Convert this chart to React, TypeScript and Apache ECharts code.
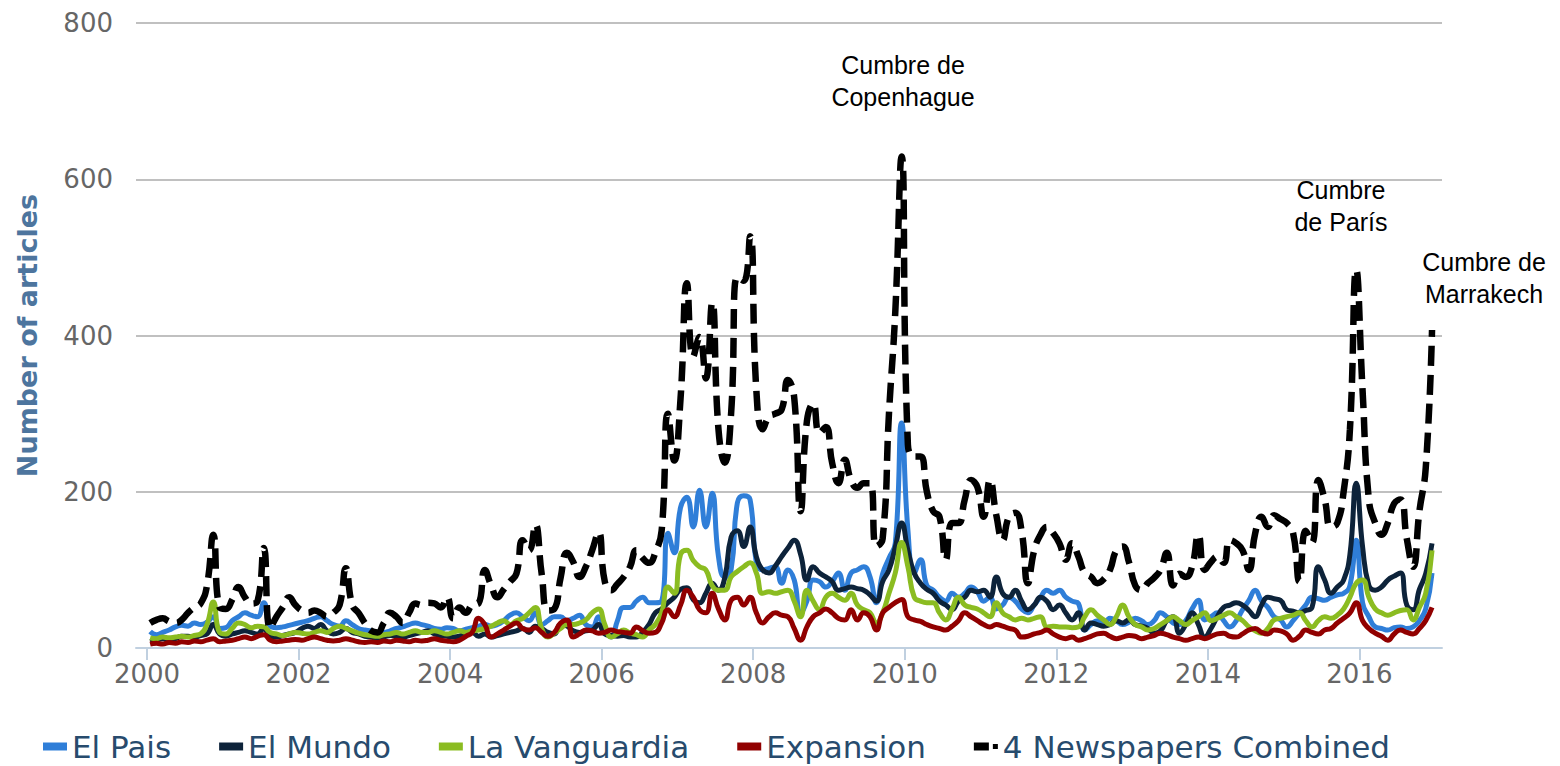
import React, { useEffect, useRef } from "react";
import * as echarts from "echarts";

// Monthly article counts, Jan 2000 .. Dec 2016 (12 values per row = one year)
const START_YEAR = 2000;

const EL_PAIS = [
  21, 17, 20, 23, 27, 29, 28, 32, 30, 33, 40, 25,
  26, 35, 40, 45, 42, 40, 58, 28, 26, 27, 29, 31,
  33, 35, 38, 40, 35, 30, 28, 35, 30, 25, 23, 22,
  20, 20, 22, 25, 27, 30, 32, 30, 28, 25, 24, 26,
  25, 22, 24, 26, 28, 30, 28, 30, 35, 42, 45, 40,
  35, 45, 30, 35, 40, 40, 35, 38, 42, 30, 27, 40,
  23, 14, 35, 52, 52, 60, 65, 58, 58, 60, 147, 122,
  180, 193, 155, 202, 155, 198, 117, 91, 100, 186, 195, 190,
  109, 100, 102, 104, 83, 100, 87, 45, 60, 87, 85, 78,
  85, 96, 74, 96, 100, 104, 91, 58, 95, 115, 134, 288,
  151, 96, 113, 80, 74, 65, 60, 70, 65, 70, 78, 72,
  60, 65, 50, 55, 65, 60, 50, 45, 55, 65, 74, 70,
  74, 65, 60, 57, 23, 30, 35, 30, 38, 35, 30, 33,
  38, 35, 30, 35, 45, 40, 32, 30, 35, 50, 61, 36,
  40, 45, 35, 27, 35, 49, 61, 74, 60, 52, 40, 36,
  27, 35, 45, 55, 65, 63, 61, 65, 68, 70, 80, 138,
  58, 40, 27, 25, 23, 26, 27, 25, 27, 35, 50, 96,
];

const EL_MUNDO = [
  8, 10, 12, 10, 12, 15, 15, 14, 16, 18, 30, 18,
  15, 18, 20, 22, 20, 18, 25, 15, 14, 16, 18, 20,
  25, 28, 25, 30, 22, 18, 20, 25, 20, 18, 15, 14,
  12, 14, 16, 15, 14, 16, 18, 20, 22, 18, 16, 15,
  14, 15, 18, 20, 15, 18, 14, 16, 18, 20, 22, 25,
  20, 28, 25, 20, 18, 30, 28, 22, 20, 22, 23, 30,
  18, 16, 15, 16, 14, 14, 20, 30, 45, 50, 58, 65,
  75, 77, 62, 58, 70, 83, 74, 90, 142, 150, 130, 155,
  117, 100, 96, 105, 117, 128, 138, 120, 87, 104, 96, 91,
  85, 74, 76, 78, 76, 74, 68, 60, 85, 100, 129, 160,
  125, 96, 83, 75, 70, 60, 55, 49, 60, 65, 74, 72,
  74, 65, 91, 70, 65, 74, 60, 49, 55, 65, 60, 49,
  55, 45, 36, 45, 23, 32, 30, 28, 30, 35, 32, 36,
  30, 28, 25, 19, 22, 35, 40, 19, 30, 45, 30, 14,
  25, 40, 52, 55, 58, 55, 48, 40, 55, 65, 63, 61,
  49, 47, 45, 48, 52, 104, 87, 70, 78, 87, 120, 211,
  130, 80, 74, 78, 87, 92, 96, 55, 49, 75, 95, 134,
];

const LA_VANGUARDIA = [
  13, 12, 14, 13, 14, 15, 14, 16, 18, 30, 59, 20,
  18, 25, 32, 30, 26, 28, 27, 20, 18, 16, 18, 20,
  19, 18, 20, 22, 20, 25, 28, 25, 22, 19, 17, 16,
  15, 17, 18, 20, 18, 20, 22, 20, 20, 22, 20, 18,
  20, 22, 20, 22, 23, 25, 28, 32, 35, 30, 35, 38,
  45, 52, 25, 14, 19, 25, 30, 30, 32, 36, 45, 50,
  30, 14, 18, 23, 19, 17, 14, 23, 30, 45, 78, 70,
  120, 125, 112, 104, 100, 80, 74, 74, 91, 98, 104, 109,
  96, 70, 72, 70, 72, 74, 60, 40, 74, 60, 49, 65,
  70, 65, 61, 70, 55, 49, 45, 32, 45, 70, 96, 135,
  104, 65, 60, 58, 58, 45, 36, 50, 65, 55, 52, 50,
  45, 40, 58, 45, 40, 36, 38, 36, 38, 40, 27, 28,
  27, 27, 26, 27, 40, 49, 42, 36, 30, 40, 55, 40,
  30, 27, 23, 25, 30, 35, 40, 35, 30, 35, 40, 45,
  35, 38, 42, 45, 40, 35, 27, 22, 19, 25, 36, 38,
  40, 42, 45, 35, 27, 35, 40, 38, 42, 50, 65, 83,
  87, 65, 50, 45, 42, 45, 48, 49, 36, 52, 70, 125,
];

const EXPANSION = [
  5, 6, 5, 7, 6, 8, 7, 9, 8, 10, 12, 8,
  9, 10, 12, 14, 12, 15, 17, 10, 8, 9, 10, 11,
  10, 12, 14, 12, 10, 9, 10, 12, 10, 8, 7, 8,
  7, 9, 8, 10, 9, 8, 10, 9, 10, 12, 10, 9,
  8, 10, 15, 20, 38, 30, 14, 18, 23, 28, 32, 25,
  23, 26, 20, 15, 20, 32, 36, 14, 18, 23, 22, 19,
  20, 23, 21, 20, 19, 27, 22, 19, 20, 32, 49, 40,
  55, 74, 65, 49, 45, 70, 50, 36, 61, 65, 55, 65,
  45, 32, 40, 45, 42, 40, 25, 10, 27, 40, 45, 50,
  45, 38, 36, 49, 36, 45, 40, 23, 45, 52, 58, 62,
  40, 36, 34, 30, 27, 25, 23, 28, 35, 45, 40, 35,
  30, 27, 30, 28, 25, 23, 14, 15, 18, 20, 23, 18,
  14, 12, 14, 10, 12, 15, 18, 19, 15, 12, 14, 16,
  15, 12, 14, 16, 19, 17, 14, 12, 10, 12, 14, 12,
  15, 18, 19, 15, 14, 18, 23, 25, 20, 18, 23, 22,
  18, 10, 15, 23, 20, 18, 23, 25, 32, 38, 45, 58,
  35, 25, 19, 15, 10, 18, 23, 20, 18, 25, 35, 52,
];

const COMBINED = [
  32, 36, 38, 34, 32, 36, 45, 52, 57, 80, 145, 52,
  50, 62, 78, 65, 57, 60, 128, 25, 40, 52, 65, 55,
  48, 45, 48, 45, 40, 45, 55, 102, 55, 45, 32, 22,
  20, 32, 45, 40, 32, 45, 57, 55, 58, 57, 52, 65,
  38, 52, 45, 55, 57, 100, 80, 65, 75, 85, 95, 138,
  125, 158, 95, 48, 50, 90, 122, 110, 91, 104, 125, 148,
  85, 74, 82, 91, 104, 125, 115, 109, 122, 150, 300, 240,
  320, 467, 373, 398, 345, 442, 280, 237, 300, 475, 470, 527,
  330, 280, 296, 300, 305, 343, 320, 175, 290, 313, 275, 283,
  237, 211, 241, 215, 205, 211, 211, 130, 140, 300, 430, 629,
  260, 245, 245, 200, 175, 168, 113, 160, 160, 190, 215, 206,
  168, 215, 170, 138, 168, 173, 150, 83, 125, 145, 155, 147,
  134, 113, 134, 117, 96, 91, 83, 88, 100, 125, 130, 110,
  80, 74, 83, 90, 100, 122, 80, 95, 91, 104, 145, 100,
  110, 117, 109, 138, 134, 125, 100, 147, 168, 155, 170, 165,
  160, 147, 85, 150, 135, 215, 190, 155, 160, 200, 280, 484,
  330, 190, 160, 145, 160, 185, 190, 140, 104, 175, 230, 407,
];

const X_TICKS = [2000, 2002, 2004, 2006, 2008, 2010, 2012, 2014, 2016];

const SERIES_NAMES = ["El Pais", "El Mundo", "La Vanguardia", "Expansion", "4 Newspapers Combined"];
const SERIES_COLORS = ["#2f7ed8", "#0d233a", "#8bbc21", "#910000", "#000000"];

const ANNOTATIONS = [
  { text: "Cumbre de\nCopenhague", x: 903, y: 49 },
  { text: "Cumbre\nde París", x: 1341, y: 174 },
  { text: "Cumbre de\nMarrakech", x: 1484, y: 246 },
];

export default function App() {
  const ref = useRef<HTMLDivElement>(null);

  useEffect(() => {
    if (!ref.current) return;
    const chart = echarts.init(ref.current, null, { renderer: "svg" });
    const xs = EL_PAIS.map((_, i) => START_YEAR + (i + 0.5) / 12);
    const toData = (arr: number[]) => arr.map((v, i) => [xs[i], v]);
    const values = [EL_PAIS, EL_MUNDO, LA_VANGUARDIA, EXPANSION, COMBINED];

    const series = values.map((arr, k) => {
      const isCombined = k === 4;
      return {
        name: SERIES_NAMES[k],
        type: "line",
        data: toData(arr),
        smooth: true,
        showSymbol: false,
        symbol: "none",
        itemStyle: { color: SERIES_COLORS[k] },
        lineStyle: isCombined
          ? { color: SERIES_COLORS[k], width: 6.5, type: [20, 9] }
          : { color: SERIES_COLORS[k], width: 5 },
        z: 2 + k,
      };
    });

    chart.setOption({
      animation: false,
      backgroundColor: "#ffffff",
      grid: { left: 136, right: 118, top: 23, bottom: 118, containLabel: false },
      xAxis: {
        type: "value",
        min: 1999.855,
        max: 2017.09,
        splitLine: { show: false },
        axisLine: { show: true, lineStyle: { color: "#C0D0E0", width: 2 } },
        axisTick: {
          show: true,
          length: 12,
          customValues: X_TICKS,
          lineStyle: { color: "#C0D0E0", width: 2 },
        },
        axisLabel: {
          customValues: X_TICKS,
          formatter: (v: number) => String(Math.round(v)),
          color: "#666666",
          fontSize: 26,
          fontFamily: "DejaVu Sans",
          margin: 13,
        },
      },
      yAxis: {
        type: "value",
        min: 0,
        max: 800,
        interval: 200,
        name: "Number of articles",
        nameLocation: "middle",
        nameRotate: 90,
        nameGap: 95,
        nameTextStyle: {
          color: "#4d759e",
          fontSize: 27,
          fontWeight: "bold",
          fontFamily: "DejaVu Sans",
        },
        axisLine: { show: false },
        axisTick: { show: false },
        axisLabel: {
          color: "#666666",
          fontSize: 26,
          fontFamily: "DejaVu Sans",
          margin: 23,
        },
        splitLine: { show: true, lineStyle: { color: "#C0C0C0", width: 2 } },
      },
      legend: {
        left: 38,
        top: 726,
        itemWidth: 24,
        itemHeight: 8,
        itemGap: 48,
        itemStyle: { borderWidth: 0 },
        textStyle: { color: "#274b6d", fontSize: 31, fontFamily: "DejaVu Sans" },
        data: SERIES_NAMES.map((n, k) => ({
          name: n,
          icon: k === 4 ? "path://M0,0H15V8H0Z M19,1.5H24V6.5H19Z" : "rect",
        })),
      },
      graphic: ANNOTATIONS.map((a) => ({
        type: "text",
        x: a.x,
        y: a.y,
        z: 100,
        style: {
          text: a.text,
          align: "center",
          verticalAlign: "top",
          font: '25px "Liberation Sans", Arial, sans-serif',
          lineHeight: 32,
          fill: "#000000",
        },
      })),
      series,
    });

    return () => {
      chart.dispose();
    };
  }, []);

  return (
    <div
      ref={ref}
      style={{ position: "fixed", left: 0, top: 0, width: 1560, height: 766, background: "#ffffff" }}
    />
  );
}
